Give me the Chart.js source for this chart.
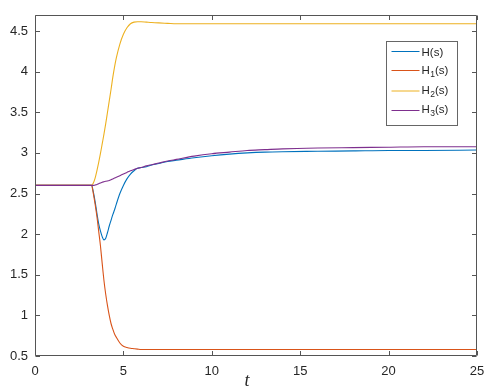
<!DOCTYPE html>
<html>
<head>
<meta charset="utf-8">
<script src="https://cdn.jsdelivr.net/npm/chart.js@4.4.1/dist/chart.umd.min.js"></script>
<style>
  html, body { margin: 0; padding: 0; background: #fff; }
  #wrap { width: 498px; height: 391px; position: relative; }
</style>
</head>
<body>
<div id="wrap"><canvas id="hChart"></canvas></div>
<script>
"use strict";

// time samples (dense around the transient)
var times = [0, 3.0, 3.2, 3.3, 3.4, 3.5, 3.6, 3.7, 3.8, 3.9, 4.0, 4.1, 4.2, 4.3, 4.4, 4.5, 4.6, 4.8, 5.0, 5.2,
             5.4, 5.6, 5.8, 6.0, 6.3, 6.6, 7.0, 7.5, 8, 9, 10, 11, 12, 13, 14, 16, 18, 20, 22, 25];

// series values
var hS  = [2.6, 2.6, 2.6, 2.52, 2.4, 2.26, 2.13, 2.04, 1.97, 1.93, 1.95, 2.02, 2.1, 2.17, 2.24, 2.3, 2.37, 2.5, 2.6, 2.68,
           2.74, 2.78, 2.81, 2.82, 2.83, 2.85, 2.87, 2.895, 2.91, 2.94, 2.965, 2.985, 3.0, 3.01, 3.015, 3.02, 3.025, 3.03, 3.03, 3.035];
var h1S = [2.6, 2.6, 2.6, 2.5, 2.37, 2.22, 2.04, 1.86, 1.64, 1.43, 1.26, 1.12, 1.0, 0.9, 0.83, 0.77, 0.73, 0.66, 0.62, 0.605,
           0.595, 0.59, 0.585, 0.58, 0.58, 0.58, 0.58, 0.58, 0.58, 0.58, 0.58, 0.58, 0.58, 0.58, 0.58, 0.58, 0.58, 0.58, 0.58, 0.58];
var h2S = [2.6, 2.6, 2.6, 2.63, 2.69, 2.78, 2.88, 2.99, 3.11, 3.23, 3.36, 3.5, 3.64, 3.78, 3.93, 4.06, 4.17, 4.34, 4.46, 4.54,
           4.59, 4.61, 4.615, 4.615, 4.61, 4.605, 4.6, 4.595, 4.59, 4.59, 4.59, 4.59, 4.59, 4.59, 4.59, 4.59, 4.59, 4.59, 4.59, 4.59];
var h3S = [2.6, 2.6, 2.6, 2.6, 2.605, 2.61, 2.62, 2.63, 2.64, 2.645, 2.65, 2.655, 2.66, 2.67, 2.68, 2.69, 2.7, 2.72, 2.74, 2.76,
           2.78, 2.795, 2.81, 2.82, 2.84, 2.855, 2.875, 2.9, 2.92, 2.96, 2.99, 3.01, 3.03, 3.04, 3.05, 3.06, 3.065, 3.07, 3.075, 3.075];

var xTicks = [0, 5, 10, 15, 20, 25];
var yTicks = [0.5, 1, 1.5, 2, 2.5, 3, 3.5, 4, 4.5];

// legend entries: base letter + subscript (empty for none)
var legendSubs = ["", "1", "2", "3"];
var lineColors = ["#0072BD", "#D95319", "#EDB120", "#7E2F8E"];

function toPoints(values) {
    return values.map(function (v, i) { return { x: times[i], y: v }; });
}

// box, inward ticks, legend and axis label (MATLAB look)
var matlabFrame = {
    id: "matlabFrame",
    afterDraw: function (chart) {
        var ctx = chart.ctx;
        var a = chart.chartArea;
        var L = Math.round(a.left) + 0.5, R = Math.round(a.right) - 0.5;
        var T = Math.round(a.top) + 0.5, B = Math.round(a.bottom) - 0.5;
        var xs = chart.scales.x, ys = chart.scales.y;
        var tl = 4.5;

        ctx.save();
        ctx.strokeStyle = "#555";
        ctx.lineWidth = 1;
        ctx.beginPath();
        ctx.rect(L, T, R - L, B - T);
        xTicks.forEach(function (v) {
            var px = Math.round(xs.getPixelForValue(v)) + 0.5;
            ctx.moveTo(px, B); ctx.lineTo(px, B - tl);
            ctx.moveTo(px, T); ctx.lineTo(px, T + tl);
        });
        yTicks.forEach(function (v) {
            var py = Math.round(ys.getPixelForValue(v)) + 0.5;
            ctx.moveTo(L, py); ctx.lineTo(L + tl, py);
            ctx.moveTo(R, py); ctx.lineTo(R - tl, py);
        });
        ctx.stroke();

        // legend box
        var lx = Math.round(a.right) - 90.5, ly = Math.round(a.top) + 26.5;
        var lw = 71, lh = 84;
        ctx.fillStyle = "#fff";
        ctx.fillRect(lx, ly, lw, lh);
        ctx.strokeStyle = "#666";
        ctx.strokeRect(lx, ly, lw, lh);

        var baselines = [14, 32.5, 52, 71.5];
        var lineYs = [10, 29, 49.5, 69];
        var bigFont = "11.5px 'Liberation Sans', Arial, sans-serif";
        var subFont = "8.5px 'Liberation Sans', Arial, sans-serif";
        ctx.textBaseline = "alphabetic";
        ctx.textAlign = "left";
        legendSubs.forEach(function (sub, i) {
            var y0 = ly + lineYs[i];
            ctx.strokeStyle = lineColors[i];
            ctx.lineWidth = 1;
            ctx.beginPath();
            ctx.moveTo(lx + 5, y0);
            ctx.lineTo(lx + 33, y0);
            ctx.stroke();

            var bx = lx + 35, by = ly + baselines[i];
            ctx.fillStyle = "#262626";
            ctx.font = bigFont;
            ctx.fillText("H", bx, by);
            bx += ctx.measureText("H").width;
            if (sub) {
                ctx.font = subFont;
                ctx.fillText(sub, bx + 0.5, by + 3);
                bx += ctx.measureText(sub).width + 0.5;
                ctx.font = bigFont;
            }
            ctx.fillText("(s)", bx, by);
        });

        // axis label
        ctx.fillStyle = "#262626";
        ctx.font = "italic 18px 'Liberation Serif', 'Times New Roman', serif";
        ctx.textAlign = "center";
        ctx.textBaseline = "middle";
        ctx.fillText("t", (a.left + a.right) / 2 - 9, a.bottom + 25);
        ctx.restore();
    }
};

var HChart = function () {
    var initChart = function () {
        var element = document.getElementById("hChart");
        var names = ["H(s)", "H1(s)", "H2(s)", "H3(s)"];
        var series = [hS, h1S, h2S, h3S];

        var datasets = series.map(function (vals, i) {
            return {
                label: names[i],
                data: toPoints(vals),
                borderColor: lineColors[i],
                backgroundColor: lineColors[i],
                borderWidth: 1.1,
                pointRadius: 0,
                fill: false,
                cubicInterpolationMode: "monotone",
                order: 4 - i // later series on top, like MATLAB
            };
        });

        var tickFont = { family: "'Liberation Sans', Arial, sans-serif", size: 13 };

        var config = {
            type: "line",
            data: { datasets: datasets },
            options: {
                responsive: true,
                maintainAspectRatio: false,
                animation: false,
                layout: { padding: { left: 0, right: 21, top: 8, bottom: 0 } },
                scales: {
                    x: {
                        type: "linear",
                        min: 0,
                        max: 25,
                        grid: { display: false, drawTicks: false },
                        border: { display: false },
                        afterBuildTicks: function (s) { s.ticks = xTicks.map(function (v) { return { value: v }; }); },
                        afterFit: function (s) { s.height = 35; },
                        ticks: {
                            color: "#262626",
                            font: tickFont,
                            padding: 8,
                            maxRotation: 0,
                            autoSkip: false,
                            callback: function (v) { return String(v); }
                        }
                    },
                    y: {
                        min: 0.5,
                        max: 4.7,
                        grid: { display: false, drawTicks: false },
                        border: { display: false },
                        afterBuildTicks: function (s) { s.ticks = yTicks.map(function (v) { return { value: v }; }); },
                        afterFit: function (s) { s.width = 35; },
                        ticks: {
                            color: "#262626",
                            font: tickFont,
                            padding: 7,
                            autoSkip: false,
                            callback: function (v) { return String(v); }
                        }
                    }
                },
                plugins: {
                    legend: { display: false },
                    tooltip: { enabled: false }
                }
            },
            plugins: [matlabFrame]
        };

        element.chartInstance = new Chart(element.getContext("2d"), config);
    };

    return {
        init: function () { initChart(); }
    };
}();

document.addEventListener("DOMContentLoaded", function () {
    HChart.init();
});
</script>
</body>
</html>
